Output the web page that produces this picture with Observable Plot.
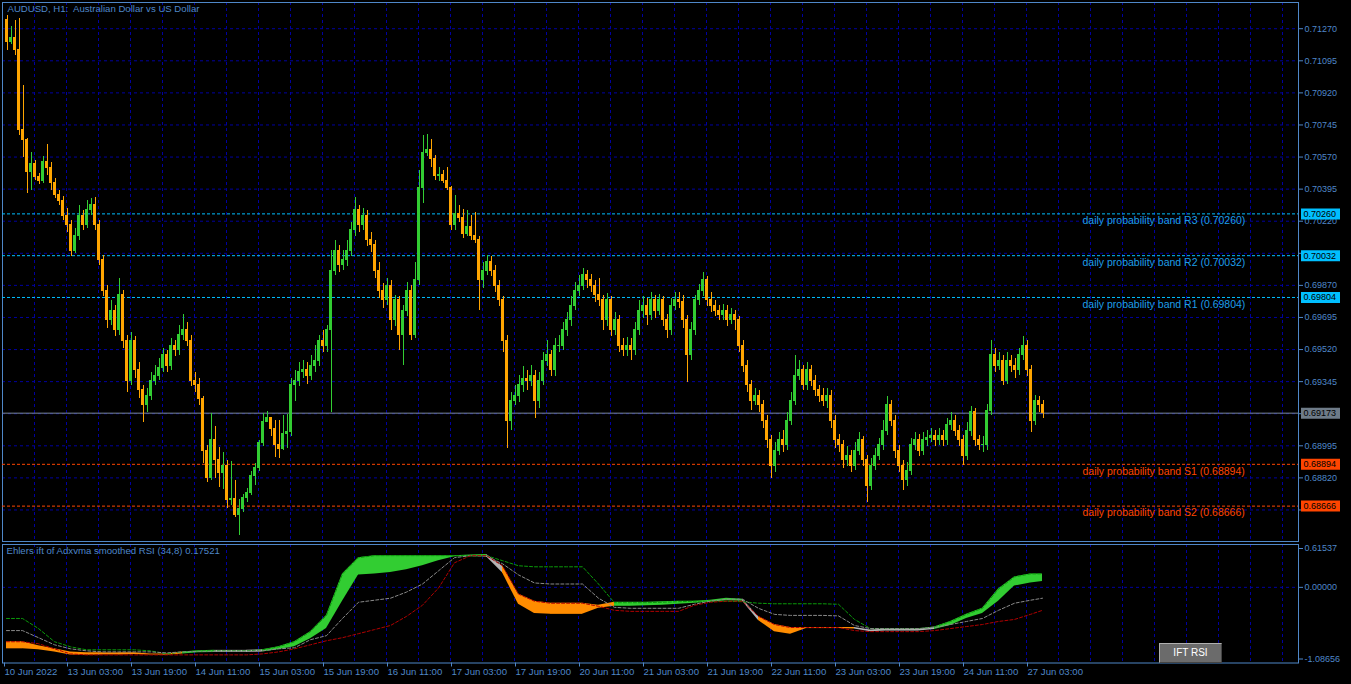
<!DOCTYPE html>
<html><head><meta charset="utf-8">
<script src="https://cdn.jsdelivr.net/npm/d3@7"></script>
<script src="https://cdn.jsdelivr.net/npm/@observablehq/plot@0.6"></script>
<style>
html,body{margin:0;padding:0;background:#000;}
#wrap{position:relative;width:1351px;height:684px;background:#000;overflow:hidden;}
#wrap svg{position:absolute;left:0;}
svg text{white-space:pre;}
#btn{position:absolute;left:1159px;top:643px;width:61px;height:18px;background:#6b6b6b;border:1px solid #b0b0b0;border-right-color:#444;border-bottom-color:#444;color:#fff;font:10px "Liberation Sans",Arial,sans-serif;text-align:center;line-height:18px;}
</style></head><body><div id="wrap"><div id="btn">IFT RSI</div></div>
<script>
// ---------- data ----------
const OPEN0 = 0.71315;
const CLOSE = [
0.71195,0.71217,0.71152,0.70715,0.70661,0.70486,0.70530,0.70459,0.70442,0.70541,
0.70508,0.70431,0.70361,0.70333,0.70251,0.70197,0.70060,0.70142,0.70251,0.70197,
0.70279,0.70306,0.70197,0.70006,0.69842,0.69679,0.69733,0.69624,0.69815,0.69569,
0.69351,0.69569,0.69406,0.69297,0.69215,0.69269,0.69351,0.69378,0.69417,0.69488,
0.69433,0.69542,0.69515,0.69597,0.69624,0.69569,0.69351,0.69324,0.69248,0.68969,
0.68822,0.69024,0.68920,0.68844,0.68887,0.68702,0.68707,0.68620,0.68653,0.68713,
0.68740,0.68833,0.68876,0.69013,0.69127,0.69144,0.69084,0.68997,0.68980,0.69062,
0.69073,0.69329,0.69351,0.69395,0.69406,0.69378,0.69433,0.69460,0.69569,0.69542,
0.69624,0.69951,0.70060,0.69979,0.70006,0.70060,0.70170,0.70279,0.70197,0.70251,
0.70115,0.70088,0.69951,0.69842,0.69788,0.69869,0.69679,0.69788,0.69597,0.69733,
0.69842,0.69597,0.69897,0.70399,0.70590,0.70611,0.70562,0.70464,0.70470,0.70442,
0.70399,0.70197,0.70262,0.70240,0.70153,0.70191,0.70137,0.70115,0.69897,0.69951,
0.69995,0.69951,0.69869,0.69788,0.69569,0.69133,0.69242,0.69269,0.69324,0.69362,
0.69351,0.69378,0.69242,0.69351,0.69460,0.69488,0.69406,0.69542,0.69542,0.69624,
0.69679,0.69760,0.69842,0.69869,0.69924,0.69897,0.69869,0.69815,0.69788,0.69679,
0.69788,0.69624,0.69679,0.69542,0.69515,0.69542,0.69515,0.69624,0.69733,0.69760,
0.69706,0.69788,0.69733,0.69788,0.69679,0.69624,0.69760,0.69788,0.69780,0.69679,
0.69488,0.69624,0.69788,0.69842,0.69897,0.69788,0.69760,0.69733,0.69706,0.69733,
0.69679,0.69706,0.69679,0.69542,0.69433,0.69324,0.69242,0.69269,0.69215,0.69133,
0.69024,0.68887,0.68969,0.69024,0.68997,0.69133,0.69242,0.69378,0.69406,0.69324,
0.69406,0.69351,0.69297,0.69269,0.69242,0.69269,0.69133,0.69024,0.68997,0.68915,
0.68942,0.68887,0.68969,0.69024,0.68915,0.68778,0.68887,0.68942,0.68997,0.69078,
0.69215,0.69133,0.68969,0.68887,0.68806,0.68860,0.68997,0.69024,0.68969,0.69024,
0.69035,0.69051,0.69024,0.69051,0.69024,0.69106,0.69133,0.69078,0.69024,0.68942,
0.69078,0.69177,0.69024,0.68997,0.69000,0.69187,0.69488,0.69433,0.69460,0.69351,
0.69460,0.69433,0.69406,0.69488,0.69542,0.69406,0.69133,0.69242,0.69215,0.69173];
const HIGH = [
0.71343,0.71283,0.71315,0.71326,0.70961,0.70672,0.70595,0.70551,0.70480,0.70573,
0.70639,0.70541,0.70453,0.70388,0.70355,0.70290,0.70224,0.70181,0.70306,0.70279,
0.70333,0.70344,0.70350,0.70224,0.70033,0.69869,0.69788,0.69760,0.69908,0.69842,
0.69597,0.69613,0.69591,0.69449,0.69324,0.69308,0.69395,0.69433,0.69471,0.69526,
0.69515,0.69580,0.69569,0.69651,0.69711,0.69668,0.69597,0.69395,0.69362,0.69264,
0.68997,0.69171,0.69100,0.68986,0.68958,0.68915,0.68909,0.68806,0.68702,0.68729,
0.68762,0.68855,0.68898,0.69024,0.69171,0.69182,0.69149,0.69133,0.69133,0.69160,
0.69166,0.69362,0.69406,0.69449,0.69460,0.69449,0.69488,0.69542,0.69597,0.69624,
0.69651,0.70060,0.70115,0.70088,0.70060,0.70115,0.70213,0.70350,0.70306,0.70290,
0.70279,0.70159,0.70115,0.69995,0.69880,0.69908,0.69897,0.69815,0.69810,0.69760,
0.69886,0.69869,0.69995,0.70497,0.70688,0.70693,0.70666,0.70579,0.70513,0.70497,
0.70513,0.70410,0.70361,0.70306,0.70284,0.70279,0.70251,0.70268,0.70137,0.69995,
0.70033,0.70028,0.69979,0.69897,0.69810,0.69597,0.69286,0.69324,0.69378,0.69427,
0.69406,0.69433,0.69406,0.69395,0.69504,0.69569,0.69515,0.69580,0.69597,0.69668,
0.69722,0.69810,0.69886,0.69924,0.69962,0.69951,0.69930,0.69897,0.69908,0.69815,
0.69826,0.69810,0.69722,0.69706,0.69580,0.69586,0.69580,0.69668,0.69788,0.69810,
0.69799,0.69831,0.69815,0.69820,0.69810,0.69711,0.69799,0.69831,0.69831,0.69815,
0.69706,0.69668,0.69815,0.69875,0.69940,0.69919,0.69831,0.69788,0.69760,0.69766,
0.69760,0.69744,0.69733,0.69700,0.69569,0.69460,0.69351,0.69308,0.69297,0.69242,
0.69160,0.69051,0.69013,0.69067,0.69078,0.69177,0.69286,0.69488,0.69460,0.69433,
0.69449,0.69433,0.69378,0.69324,0.69308,0.69308,0.69297,0.69160,0.69056,0.69024,
0.68991,0.68969,0.69013,0.69067,0.69046,0.68942,0.68926,0.68980,0.69035,0.69133,
0.69264,0.69242,0.69160,0.68997,0.68915,0.68904,0.69035,0.69067,0.69056,0.69067,
0.69078,0.69089,0.69078,0.69089,0.69078,0.69144,0.69177,0.69160,0.69106,0.69051,
0.69122,0.69209,0.69198,0.69051,0.69046,0.69220,0.69569,0.69526,0.69504,0.69488,
0.69504,0.69488,0.69471,0.69526,0.69591,0.69569,0.69433,0.69269,0.69264,0.69242];
const LOW = [
0.71152,0.71184,0.71124,0.70688,0.70568,0.70371,0.70388,0.70442,0.70420,0.70426,
0.70470,0.70388,0.70344,0.70306,0.70224,0.70159,0.70028,0.70044,0.70115,0.70170,
0.70181,0.70251,0.70170,0.69979,0.69810,0.69635,0.69651,0.69591,0.69597,0.69526,
0.69286,0.69324,0.69362,0.69253,0.69122,0.69177,0.69242,0.69324,0.69351,0.69395,
0.69395,0.69406,0.69482,0.69488,0.69569,0.69537,0.69318,0.69286,0.69215,0.68898,
0.68795,0.68806,0.68816,0.68767,0.68757,0.68653,0.68669,0.68604,0.68505,0.68631,
0.68686,0.68724,0.68778,0.68855,0.68991,0.69149,0.69046,0.68931,0.68926,0.68969,
0.68980,0.69046,0.69236,0.69318,0.69362,0.69329,0.69351,0.69395,0.69427,0.69504,
0.69504,0.69177,0.69924,0.69940,0.69951,0.69973,0.70028,0.70137,0.70159,0.70170,
0.70082,0.70049,0.69908,0.69799,0.69744,0.69760,0.69624,0.69646,0.69515,0.69433,
0.69700,0.69569,0.69580,0.69869,0.70317,0.70573,0.70513,0.70442,0.70437,0.70426,
0.70388,0.70170,0.70170,0.70213,0.70126,0.70137,0.70115,0.70099,0.69733,0.69853,
0.69924,0.69919,0.69831,0.69755,0.69504,0.68980,0.69078,0.69215,0.69231,0.69286,
0.69297,0.69318,0.69144,0.69198,0.69324,0.69427,0.69373,0.69373,0.69504,0.69515,
0.69591,0.69646,0.69733,0.69810,0.69842,0.69853,0.69831,0.69777,0.69755,0.69624,
0.69646,0.69591,0.69597,0.69504,0.69482,0.69482,0.69460,0.69488,0.69597,0.69689,
0.69651,0.69679,0.69689,0.69706,0.69646,0.69580,0.69597,0.69733,0.69744,0.69635,
0.69340,0.69460,0.69597,0.69760,0.69810,0.69755,0.69722,0.69700,0.69679,0.69679,
0.69646,0.69657,0.69624,0.69504,0.69395,0.69286,0.69187,0.69215,0.69177,0.69089,
0.68980,0.68816,0.68849,0.68942,0.68958,0.68969,0.69106,0.69215,0.69351,0.69297,
0.69297,0.69318,0.69264,0.69231,0.69209,0.69198,0.69089,0.68980,0.68958,0.68871,
0.68882,0.68849,0.68860,0.68942,0.68882,0.68686,0.68751,0.68860,0.68915,0.68969,
0.69051,0.69100,0.68926,0.68849,0.68751,0.68773,0.68833,0.68969,0.68937,0.68942,
0.68991,0.69013,0.68991,0.68997,0.68991,0.68997,0.69078,0.69046,0.68991,0.68887,
0.68915,0.69046,0.68991,0.68969,0.68958,0.68969,0.69160,0.69395,0.69406,0.69324,
0.69329,0.69395,0.69362,0.69378,0.69460,0.69373,0.69067,0.69106,0.69177,0.69144];

const PRICE_TICKS = [0.71270,0.71095,0.70920,0.70745,0.70570,0.70395,0.70220,0.70045,
  0.69870,0.69695,0.69520,0.69345,0.69170,0.68995,0.68820,0.68645];
const LEVEL_NAMES = ["R3","R2","R1","S1","S2"];
const LEVEL_VALUES = [0.70260,0.70032,0.69804,0.68894,0.68666];
const CURRENT_PRICE = 0.69173;

const TIME_IDX = [-0.75,15,31,47,63,79,95,111,127,143,159,175,191,207,223,239,255];
const TIME_LABELS = ["10 Jun 2022","13 Jun 03:00","13 Jun 19:00","14 Jun 11:00","15 Jun 03:00",
  "15 Jun 19:00","16 Jun 11:00","17 Jun 03:00","17 Jun 19:00","20 Jun 11:00","21 Jun 03:00",
  "21 Jun 19:00","22 Jun 11:00","23 Jun 03:00","23 Jun 19:00","24 Jun 11:00","27 Jun 03:00"];

// indicator (sampled every 4 bars)
const IND_IDX = [0,4,8,12,16,20,24,28,32,36,40,44,48,52,56,60,64,68,72,76,80,84,88,92,96,100,
  104,108,112,116,120,124,128,132,136,140,144,148,152,156,160,164,168,172,176,180,184,188,192,
  196,200,204,208,212,216,220,224,228,232,236,240,244,248,252,256,259];
const BAND_TOP = [-0.781,-0.781,-0.839,-0.883,-0.927,-0.941,-0.941,-0.941,-0.941,-0.956,-0.956,
  -0.927,-0.912,-0.905,-0.905,-0.905,-0.897,-0.854,-0.781,-0.636,-0.403,0.193,0.426,0.455,0.455,
  0.455,0.455,0.455,0.455,0.463,0.470,0.310,-0.097,-0.199,-0.228,-0.228,-0.228,-0.257,-0.214,
  -0.214,-0.214,-0.207,-0.199,-0.199,-0.185,-0.156,-0.170,-0.417,-0.534,-0.577,-0.577,-0.577,
  -0.577,-0.577,-0.614,-0.599,-0.599,-0.599,-0.570,-0.490,-0.388,-0.301,-0.025,0.150,0.193,0.193];
const BAND_BOT = [-0.883,-0.883,-0.897,-0.927,-0.970,-0.977,-0.970,-0.970,-0.963,-0.970,-0.977,
  -0.956,-0.941,-0.934,-0.934,-0.934,-0.927,-0.897,-0.854,-0.737,-0.592,-0.199,0.179,0.193,0.215,
  0.252,0.310,0.383,0.441,0.441,0.441,0.208,-0.243,-0.374,-0.388,-0.388,-0.388,-0.301,-0.272,
  -0.272,-0.265,-0.257,-0.243,-0.228,-0.214,-0.192,-0.199,-0.476,-0.636,-0.672,-0.592,-0.592,
  -0.592,-0.599,-0.636,-0.628,-0.628,-0.628,-0.607,-0.548,-0.447,-0.374,-0.199,0.019,0.063,0.084];
const BAND_STATE = "ooooooooooo"+"gg"+"sss"+"gggggggggggggg"+"s"+"ooooooo"+"gggggggg"+"s"+"oooooo"+"sssss"+"gggggggg";
const UPPER = [-0.447,-0.447,-0.592,-0.781,-0.854,-0.897,-0.897,-0.897,-0.897,-0.912,-0.956,
  -0.927,-0.912,-0.912,-0.912,-0.912,-0.897,-0.854,-0.781,-0.636,-0.403,0.193,0.426,0.455,0.455,
  0.455,0.455,0.455,0.455,0.455,0.455,0.383,0.310,0.295,0.295,0.295,0.295,0.048,-0.221,-0.221,
  -0.221,-0.214,-0.207,-0.199,-0.199,-0.199,-0.207,-0.228,-0.236,-0.236,-0.236,-0.236,-0.243,
  -0.461,-0.592,-0.592,-0.592,-0.592,-0.570,-0.490,-0.388,-0.301,-0.025,0.150,0.193,0.193];
const MIDDLE = [-0.621,-0.621,-0.723,-0.825,-0.883,-0.912,-0.927,-0.927,-0.927,-0.927,-0.941,
  -0.927,-0.919,-0.919,-0.919,-0.919,-0.912,-0.883,-0.868,-0.752,-0.694,-0.447,-0.214,-0.185,
  -0.156,-0.068,0.048,0.237,0.426,0.455,0.448,0.339,0.179,0.063,0.048,0.048,0.048,-0.156,-0.287,
  -0.301,-0.301,-0.301,-0.301,-0.243,-0.199,-0.170,-0.170,-0.301,-0.388,-0.403,-0.403,-0.403,
  -0.410,-0.548,-0.592,-0.592,-0.592,-0.592,-0.577,-0.534,-0.490,-0.447,-0.330,-0.228,-0.185,-0.156];
const LOWER = [-0.781,-0.781,-0.810,-0.883,-0.956,-0.970,-0.970,-0.970,-0.970,-0.970,-0.970,
  -0.970,-0.970,-0.970,-0.970,-0.970,-0.956,-0.927,-0.883,-0.825,-0.767,-0.723,-0.665,-0.607,
  -0.548,-0.417,-0.257,-0.010,0.353,0.455,0.455,0.310,-0.097,-0.199,-0.228,-0.228,-0.228,-0.272,
  -0.330,-0.345,-0.345,-0.345,-0.345,-0.257,-0.214,-0.199,-0.199,-0.417,-0.534,-0.577,-0.577,
  -0.577,-0.577,-0.621,-0.636,-0.636,-0.636,-0.636,-0.621,-0.592,-0.563,-0.534,-0.490,-0.461,-0.388,-0.330];
const IND_TICKS = [0.61537, 0, -1.08656];
const IND_VALUE = 0.17521;

// ---------- styles ----------
const AXIS = "#4f87c8", GRID = "#0000a0", BULL = "#32cd32", BEAR = "#ffa500";
const RCOL = "#00bfff", RTXT = "#1e9ee8", SCOL = "#ff4500";
const BANDCOL = {o:"#ff8c00", g:"#32cd32", s:"#b4b4b4"};
const FONT = "'Liberation Sans', Arial, sans-serif";
const XDOM = [-1, 323];
const VGRID = d3.range(7, 323, 8);
// tick labels hidden under the price tags
const HIDDEN_TICK_LABELS = [0.70045, 0.69170, 0.68645];

const bars = CLOSE.map((c, i) => {
  const o = i === 0 ? OPEN0 : CLOSE[i - 1];
  return {i, open: o, close: c, high: Math.max(HIGH[i], o, c), low: Math.min(LOW[i], o, c)};
});
const levels = LEVEL_NAMES.map((n, k) => ({name: n, v: LEVEL_VALUES[k], r: n[0] === "R"}));
const priceTags = levels.map(d => ({v: d.v, bg: d.r ? RCOL : SCOL}))
  .concat([{v: CURRENT_PRICE, bg: "#6e7b88"}]);

const wrap = document.getElementById("wrap");

const main = Plot.plot({
  width: 1351, height: 543,
  marginLeft: 2, marginRight: 53, marginTop: 2, marginBottom: 2,
  style: {background: "transparent", color: AXIS, fontFamily: FONT, fontSize: "9px", overflow: "visible"},
  x: {domain: XDOM, axis: null},
  y: {domain: [0.68473, 0.71413]},
  marks: [
    Plot.gridY(PRICE_TICKS, {stroke: GRID, strokeOpacity: 1, strokeDasharray: "3,3"}),
    Plot.gridX(VGRID, {stroke: GRID, strokeOpacity: 1, strokeDasharray: "3,3"}),
    Plot.axisY(PRICE_TICKS, {anchor: "right", tickSize: 4, tickPadding: 2,
      tickFormat: d => HIDDEN_TICK_LABELS.includes(d) ? "" : d.toFixed(5), fill: AXIS, stroke: AXIS}),
    Plot.frame({stroke: AXIS}),
    Plot.ruleY(levels, {y: "v", stroke: d => d.r ? RCOL : SCOL, strokeDasharray: "3,2"}),
    Plot.ruleY([CURRENT_PRICE], {stroke: "#7a8899"}),
    Plot.ruleX(bars, {x: d => d.i + 0.125, y1: "low", y2: "high", stroke: d => d.close >= d.open ? BULL : BEAR, shapeRendering: "crispEdges"}),
    Plot.rect(bars, {x1: d => d.i - 0.25, x2: d => d.i + 0.5, y1: "open", y2: "close", insetTop: -0.5, insetBottom: -0.5, fill: d => d.close >= d.open ? BULL : BEAR, shapeRendering: "crispEdges"}),
    Plot.text(levels, {x: () => 269, y: "v", dy: 7, text: d => `daily probability band ${d.name} (${d.v.toFixed(5)})`, textAnchor: "start", fill: d => d.r ? RTXT : SCOL, fontSize: 10.5}),
    Plot.ruleY(priceTags, {y: "v", x1: () => 323.75, x2: () => 333.5, stroke: "bg", strokeWidth: 11}),
    Plot.text(priceTags, {x: () => 324.25, y: "v", text: d => d.v.toFixed(5), textAnchor: "start", fill: "#000", fontSize: 9}),
    Plot.text(["AUDUSD, H1:  Australian Dollar vs US Dollar"], {frameAnchor: "top-left", dx: 5, dy: 3, textAnchor: "start", fill: AXIS, fontSize: 9.6})
  ]
});
main.style.top = "0px";
wrap.appendChild(main);

const segs = [];
for (let k = 0; k < IND_IDX.length - 1; k++) {
  const st = BAND_STATE[k];
  segs.push({z: k, x: IND_IDX[k], y1: BAND_BOT[k], y2: BAND_TOP[k], c: BANDCOL[st]});
  segs.push({z: k, x: IND_IDX[k + 1], y1: BAND_BOT[k + 1], y2: BAND_TOP[k + 1], c: BANDCOL[st]});
}
const ind = IND_IDX.map((x, k) => ({x, up: UPPER[k], mid: MIDDLE[k], lo: LOWER[k]}));

const lower = Plot.plot({
  width: 1351, height: 143,
  marginLeft: 2, marginRight: 53, marginTop: 3, marginBottom: 21.5,
  style: {background: "transparent", color: AXIS, fontFamily: FONT, fontSize: "9px", overflow: "visible"},
  x: {domain: XDOM},
  y: {domain: [-1.08656, 0.61537]},
  marks: [
    Plot.gridX(VGRID, {stroke: GRID, strokeOpacity: 1, strokeDasharray: "3,3"}),
    Plot.gridY([0], {stroke: GRID, strokeOpacity: 1, strokeDasharray: "3,3"}),
    Plot.areaY(segs, {x: "x", y1: "y1", y2: "y2", z: "z", fill: "c"}),
    Plot.line(ind, {x: "x", y: "up", stroke: "#0a9a0a", strokeWidth: 1, strokeDasharray: "3,2"}),
    Plot.line(ind, {x: "x", y: "mid", stroke: "#8a8a8a", strokeWidth: 1, strokeDasharray: "3,2"}),
    Plot.line(ind, {x: "x", y: "lo", stroke: "#b00000", strokeWidth: 1, strokeDasharray: "3,2"}),
    Plot.frame({stroke: AXIS}),
    Plot.axisY([0], {anchor: "right", tickSize: 4, tickPadding: 2, tickFormat: d => d.toFixed(5), fill: AXIS, stroke: AXIS, label: null}),
    Plot.axisY([IND_TICKS[0]], {anchor: "right", tickSize: 4, tickPadding: 2, dy: 4, tickFormat: d => d.toFixed(5), fill: AXIS, stroke: AXIS, label: null}),
    Plot.axisY([IND_TICKS[2]], {anchor: "right", tickSize: 4, tickPadding: 2, dy: -4, tickFormat: d => d.toFixed(5), fill: AXIS, stroke: AXIS, label: null}),
    Plot.axisX(TIME_IDX, {anchor: "bottom", tickSize: 4, tickPadding: 1, textAnchor: "start", dx: 1, label: null,
      tickFormat: d => TIME_LABELS[TIME_IDX.indexOf(d)], fill: AXIS, stroke: AXIS, fontSize: 9.6}),
    Plot.text([`Ehlers ift of Adxvma smoothed RSI (34,8) ${IND_VALUE.toFixed(5)}`], {frameAnchor: "top-left", dx: 4, dy: 3, textAnchor: "start", fill: AXIS, fontSize: 9.6})
  ]
});
lower.style.top = "541px";
wrap.insertBefore(lower, document.getElementById("btn"));
</script></body></html>
